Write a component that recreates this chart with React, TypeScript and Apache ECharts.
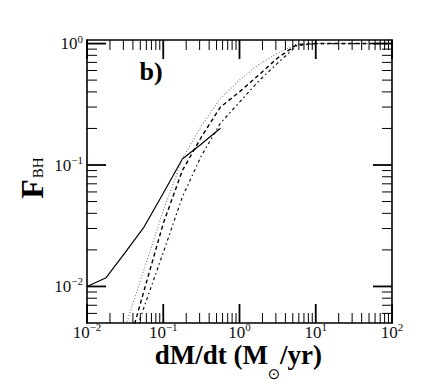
import React, { useEffect, useRef } from "react";
import * as echarts from "echarts";

// accretion rate samples (Msun/yr), quarter-decade steps
const dmdt = [0.01, 0.0178, 0.0316, 0.0562, 0.1, 0.178, 0.316, 0.562, 1, 1.78, 3.16, 5.62, 10, 17.8, 31.6, 56.2, 100];
// F_BH for the four curves (null = not drawn)
const fSolid = [0.01, 0.0118, 0.019, 0.031, 0.0585, 0.112, 0.149, 0.201];
const fDotted = [null, null, 0.0046, 0.0139, 0.042, 0.112, 0.21, 0.354, 0.5, 0.67, 0.835, 0.99, 1.0, 1.0, 1.0, 1.0, 1.0];
const fDashed = [null, null, 0.0026, 0.0093, 0.033, 0.09, 0.17, 0.3, 0.4, 0.55, 0.76, 0.98, 1.0, 1.0, 1.0, 1.0, 1.0];
const fDashDot = [null, null, 0.0023, 0.0068, 0.019, 0.0545, 0.119, 0.221, 0.329, 0.49, 0.69, 0.96, 1.0, 1.0, 1.0, 1.0, 1.0];

const xMin = 0.01;
const xMax = 100;
const yMin = 0.005;
const yMax = 1.07;

const majorX = [0.01, 0.1, 1, 10, 100];
const majorY = [0.01, 0.1, 1];
const mantissas = [2, 3, 4, 5, 6, 7, 8, 9];
const minorX = [-2, -1, 0, 1].flatMap((k) => mantissas.map((m) => m * Math.pow(10, k)));
const minorY = [-3, -2, -1]
  .flatMap((k) => mantissas.map((m) => m * Math.pow(10, k)))
  .filter((v) => v > 0.0051 && v < yMax);

const serif = "'Liberation Serif', 'DejaVu Serif', serif";

const pairs = (arr: (number | null)[]) =>
  arr.map((y, i) => [dmdt[i], y]).filter((p) => p[1] != null);

// tick marks: [x, y, kind] kind 0 = x major, 1 = x minor, 2 = y major, 3 = y minor
const tickData = [
  ...majorX.map((v) => [v, yMin, 0]),
  ...minorX.map((v) => [v, yMin, 1]),
  ...majorY.map((v) => [xMin, v, 2]),
  ...minorY.map((v) => [xMin, v, 3]),
];

const labelFormatter = (v: number) => {
  const e = Math.round(Math.log10(v));
  const s = e < 0 ? "\u2212" + -e : String(e);
  return `{b|10}{s|${s}}`;
};

const labelRich = {
  b: { fontSize: 17, fontFamily: serif, color: "#111", lineHeight: 14 },
  s: { fontSize: 11, fontFamily: serif, color: "#111", lineHeight: 10, padding: [0, 0, 10, 0] },
};

function axis(position: string, min: number, max: number, ticks: number[] | null) {
  return {
    type: "log",
    logBase: 10,
    position,
    min,
    max,
    axisLine: { show: true, onZero: false, lineStyle: { color: "#000", width: 1.6 } },
    axisTick: { show: false },
    axisLabel: ticks
      ? {
          show: true,
          customValues: ticks,
          formatter: labelFormatter,
          rich: labelRich,
          margin: position === "bottom" ? 2 : 4,
        }
      : { show: false },
    splitLine: { show: false },
    minorTick: { show: false },
    minorSplitLine: { show: false },
  };
}

export default function App() {
  const ref = useRef<HTMLDivElement>(null);

  useEffect(() => {
    if (!ref.current) return;
    const chart = echarts.init(ref.current, null, { renderer: "svg" });
    chart.setOption({
      animation: false,
      backgroundColor: "#fff",
      grid: { left: 87, right: 44, top: 40, bottom: 59, containLabel: false },
      xAxis: [axis("bottom", xMin, xMax, majorX), axis("top", xMin, xMax, null)],
      yAxis: [axis("left", yMin, yMax, majorY), axis("right", yMin, yMax, null)],
      graphic: [
        {
          type: "text",
          x: 151,
          y: 71,
          style: {
            text: "b)",
            font: `bold 26px ${serif}`,
            fill: "#000",
            align: "center",
            verticalAlign: "middle",
          },
        },
        {
          type: "text",
          x: 268,
          y: 355,
          style: {
            text: "dM/dt (M",
            font: `bold 27px ${serif}`,
            lineHeight: 18,
            fill: "#000",
            align: "right",
            verticalAlign: "middle",
          },
        },
        {
          type: "text",
          x: 274,
          y: 374,
          style: {
            text: "\u2299",
            font: `15px 'DejaVu Sans', sans-serif`,
            fill: "#000",
            align: "center",
            verticalAlign: "middle",
          },
        },
        {
          type: "text",
          x: 280,
          y: 355,
          style: {
            text: "/yr)",
            font: `bold 27px ${serif}`,
            lineHeight: 18,
            fill: "#000",
            align: "left",
            verticalAlign: "middle",
          },
        },
        {
          type: "text",
          x: 32,
          y: 178,
          rotation: Math.PI / 2,
          style: {
            text: "{f|F}{s|BH}",
            align: "center",
            verticalAlign: "middle",
            rich: {
              f: { fontSize: 32, fontWeight: "bold", fontFamily: serif, color: "#000", lineHeight: 32 },
              s: { fontSize: 15, fontFamily: serif, color: "#000", lineHeight: 15, padding: [11, 0, 0, 1] },
            },
          },
        },
      ],
      series: [
        {
          type: "custom",
          name: "ticks",
          xAxisIndex: 0,
          yAxisIndex: 0,
          data: tickData,
          clip: false,
          silent: true,
          z: 5,
          renderItem: (params: any, api: any) => {
            const kind = api.value(2);
            const major = kind === 0 || kind === 2;
            const len = major ? 19 : 10;
            const lw = major ? 1.8 : 1;
            const style = { stroke: "#000", lineWidth: lw };
            if (kind < 2) {
              const v = api.value(0);
              const b = api.coord([v, yMin]);
              const t = api.coord([v, yMax]);
              return {
                type: "group",
                children: [
                  { type: "line", shape: { x1: b[0], y1: b[1], x2: b[0], y2: b[1] - len }, style },
                  { type: "line", shape: { x1: t[0], y1: t[1], x2: t[0], y2: t[1] + len }, style },
                ],
              };
            }
            const v = api.value(1);
            const l = api.coord([xMin, v]);
            const r = api.coord([xMax, v]);
            return {
              type: "group",
              children: [
                { type: "line", shape: { x1: l[0], y1: l[1], x2: l[0] + len, y2: l[1] }, style },
                { type: "line", shape: { x1: r[0], y1: r[1], x2: r[0] - len, y2: r[1] }, style },
              ],
            };
          },
        },
        {
          type: "line",
          name: "solid",
          xAxisIndex: 0,
          yAxisIndex: 0,
          data: pairs(fSolid),
          showSymbol: false,
          lineStyle: { color: "#000", width: 1.2, type: "solid" },
          clip: true,
        },
        {
          type: "line",
          name: "dotted",
          xAxisIndex: 0,
          yAxisIndex: 0,
          data: pairs(fDotted),
          showSymbol: false,
          lineStyle: { color: "#777", width: 1.1, type: [1, 2] },
          clip: true,
        },
        {
          type: "line",
          name: "dashed",
          xAxisIndex: 0,
          yAxisIndex: 0,
          data: pairs(fDashed),
          showSymbol: false,
          lineStyle: { color: "#000", width: 1.4, type: [4, 3] },
          clip: true,
        },
        {
          type: "line",
          name: "dashdot",
          xAxisIndex: 0,
          yAxisIndex: 0,
          data: pairs(fDashDot),
          showSymbol: false,
          lineStyle: { color: "#111", width: 1.2, type: [1.5, 3, 3, 3] },
          clip: true,
        },
      ],
    });
    return () => chart.dispose();
  }, []);

  return <div ref={ref} style={{ width: 436, height: 382, position: "absolute", left: 0, top: 0 }} />;
}
